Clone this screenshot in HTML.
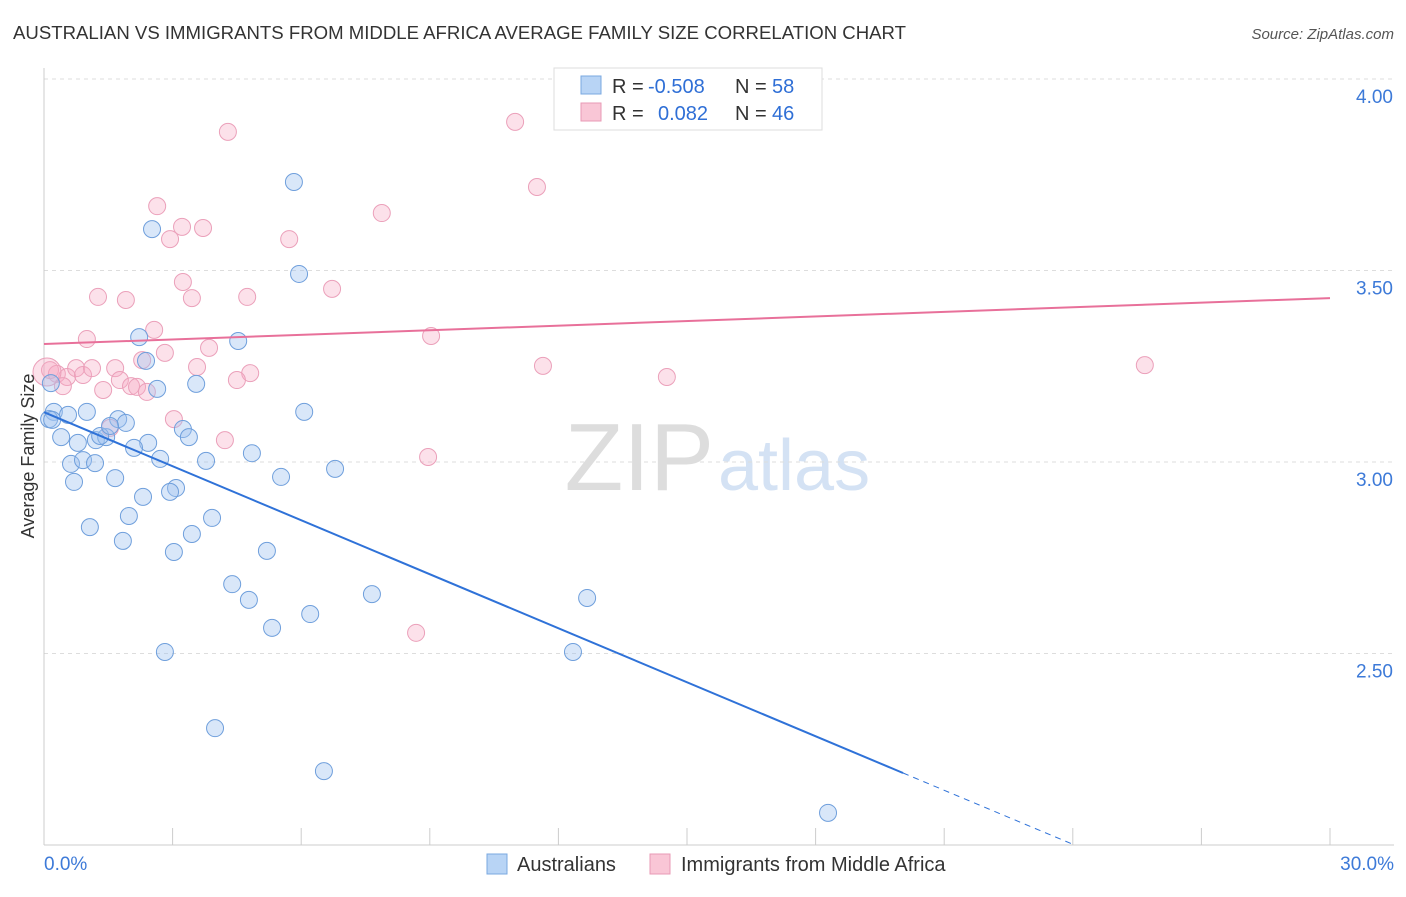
<!DOCTYPE html>
<html><head><meta charset="utf-8"><style>
body{margin:0;background:#fff;font-family:"Liberation Sans",sans-serif;}
svg text{font-family:"Liberation Sans",sans-serif;}
</style></head><body>
<svg id="chart" width="1406" height="892" viewBox="0 0 1406 892">
<text x="13" y="39" font-size="18.6" fill="#333">AUSTRALIAN VS IMMIGRANTS FROM MIDDLE AFRICA AVERAGE FAMILY SIZE CORRELATION CHART</text>
<text x="1394" y="39" font-size="15" fill="#555" text-anchor="end" font-style="italic">Source: ZipAtlas.com</text>
<text x="714" y="490" font-size="96" fill="#ddd" text-anchor="end" font-family="Liberation Serif">ZIP</text>
<text x="718" y="490" font-size="72" fill="#d4e2f4">atlas</text>
<g id="grid"></g><g id="axes"></g><g id="marks"></g>
<text transform="translate(34,456) rotate(-90)" font-size="18" fill="#333" text-anchor="middle">Average Family Size</text>
<g>
<rect x="554" y="68" width="268" height="62" fill="#fff" stroke="#ddd"/>
<rect x="581" y="76" width="20" height="18" fill="#b8d4f5" stroke="#7aa8e0"/>
<rect x="581" y="103" width="20" height="18" fill="#f9c6d6" stroke="#e89ab5"/>
<text x="612" y="93" font-size="20" fill="#333">R =</text>
<text x="648" y="93" font-size="20" fill="#2f6fd6">-0.508</text>
<text x="735" y="93" font-size="20" fill="#333">N =</text>
<text x="772" y="93" font-size="20" fill="#2f6fd6">58</text>
<text x="612" y="120" font-size="20" fill="#333">R =</text>
<text x="658" y="120" font-size="20" fill="#2f6fd6">0.082</text>
<text x="735" y="120" font-size="20" fill="#333">N =</text>
<text x="772" y="120" font-size="20" fill="#2f6fd6">46</text>
</g>
<g>
<rect x="487" y="854" width="20" height="20" fill="#b8d4f5" stroke="#7aa8e0"/>
<text x="517" y="871" font-size="20" fill="#333">Australians</text>
<rect x="650" y="854" width="20" height="20" fill="#f9c6d6" stroke="#e89ab5"/>
<text x="681" y="871" font-size="20" fill="#333">Immigrants from Middle Africa</text>
</g>
</svg>
<script>
const yTicks=[2.5,3.0,3.5,4.0];
const yTickLabels=["2.50","3.00","3.50","4.00"];
const xTickLabels=["0.0%","30.0%"];
const bluePx=[[294,182],[152,229],[299,274],[139,337],[238,341],[146,361],[157,389],[196,384],[54,412],[68,415],[87,412],[118,419],[126,423],[49,419],[304,412],[61,437],[96,440],[106,437],[183,429],[148,443],[189,437],[134,448],[78,443],[252,453],[160,459],[206,461],[71,464],[83,460],[95,463],[335,469],[281,477],[115,478],[74,482],[176,488],[170,492],[143,497],[129,516],[212,518],[90,527],[192,534],[123,541],[174,552],[267,551],[232,584],[372,594],[587,598],[249,600],[310,614],[272,628],[165,652],[573,652],[215,728],[324,771],[828,813],[51,383],[52,420],[100,436],[110,426]];
const pinkPx=[[228,132],[515,122],[537,187],[157,206],[182,227],[203,228],[170,239],[289,239],[382,213],[183,282],[332,289],[98,297],[126,300],[192,298],[247,297],[154,330],[87,339],[431,336],[209,348],[165,353],[142,360],[197,367],[250,373],[237,380],[543,366],[667,377],[1145,365],[50,370],[57,374],[67,377],[76,368],[83,375],[92,368],[115,368],[120,380],[103,390],[63,386],[131,386],[137,387],[147,392],[174,419],[110,428],[225,440],[428,457],[416,633],[47,372]];
const blueX=bluePx.map(p=>+((p[0]-44)/1286*30).toFixed(2));
const blueY=bluePx.map(p=>+(3+(462-p[1])/383).toFixed(3));
const pinkX=pinkPx.map(p=>+((p[0]-44)/1286*30).toFixed(2));
const pinkY=pinkPx.map(p=>+(3+(462-p[1])/383).toFixed(3));
const blueTrend=[3.13,2.188]; const blueTrendEnd=20.04;
const pinkTrend=[3.308,3.428];
const X=v=>44+v/30*1286, Y=v=>462-(v-3)*383;
const NS="http://www.w3.org/2000/svg";
function mk(t,a,parent){const e=document.createElementNS(NS,t);for(const k in a)e.setAttribute(k,a[k]);document.getElementById(parent).appendChild(e);return e;}
yTicks.forEach((t,i)=>{
 const l=mk('line',{x1:44,x2:1394,y1:Y(t),y2:Y(t),stroke:'#ddd','stroke-dasharray':'4,4'},'grid');
 
 
 const tx=mk('text',{x:1393,y:Y(t)+24,'font-size':19,fill:'#3d7ad8','text-anchor':'end'},'axes');tx.textContent=yTickLabels[i];
 
 
});
const ax=mk('line',{x1:44,x2:44,y1:68,y2:845,stroke:'#ccc'},'axes');


const bx=mk('line',{x1:44,x2:1394,y1:845,y2:845,stroke:'#ccc'},'axes');


for(let i=0;i<=10;i++){const t=mk('line',{x1:X(i*3),x2:X(i*3),y1:828,y2:845,stroke:'#ccc'},'axes');
 
 }
[[0,'start',44],[30,'end',1394]].forEach((d,i)=>{const t=mk('text',{x:d[2],y:870,'font-size':19,fill:'#3d7ad8','text-anchor':d[1]},'axes');t.textContent=xTickLabels[i];
 
 });
pinkX.forEach((x,i)=>{const c=mk('circle',{cx:X(x),cy:Y(pinkY[i]),r:i==pinkX.length-1?14:8.5,fill:'rgba(246,170,196,0.35)',stroke:'#eba0ba','stroke-width':1},'marks');
 
 });
blueX.forEach((x,i)=>{const c=mk('circle',{cx:X(x),cy:Y(blueY[i]),r:8.5,fill:'rgba(160,196,240,0.4)',stroke:'#6f9fdc','stroke-width':1},'marks');
 
 });
const slope=(blueTrend[1]-blueTrend[0])/blueTrendEnd;
const bl=mk('line',{x1:X(0),y1:Y(blueTrend[0]),x2:X(blueTrendEnd),y2:Y(blueTrend[1]),stroke:'#2f72d8','stroke-width':2},'marks');


const xe=24;const bd=mk('line',{x1:X(blueTrendEnd),y1:Y(blueTrend[1]),x2:X(xe),y2:Y(blueTrend[0]+slope*xe),stroke:'#2f72d8','stroke-width':1,'stroke-dasharray':'6,5'},'marks');


const pl=mk('line',{x1:X(0),y1:Y(pinkTrend[0]),x2:X(30),y2:Y(pinkTrend[1]),stroke:'#e8709a','stroke-width':2},'marks');


</script>
</body></html>
